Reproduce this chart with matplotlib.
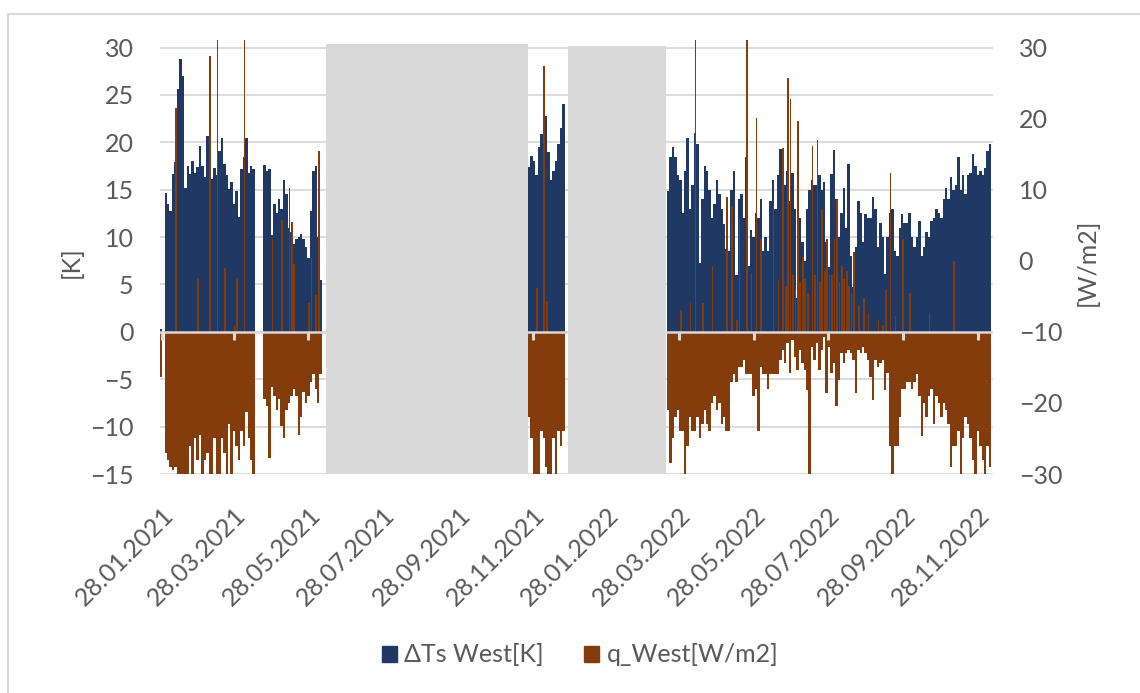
import numpy as np
import matplotlib
matplotlib.use("Agg")
import matplotlib.pyplot as plt
import matplotlib.dates as mdates
import matplotlib.transforms as mtransforms
from matplotlib.patches import Patch, Rectangle

plt.rcParams['font.family'] = ['Lato', 'DejaVu Sans']

BLUE = '#1F3864'
BROWN = '#843C0C'
GRID = '#D9D9D9'
TXT = '#595959'
nan = np.nan

# values: one bar per 2 days, first bar centred on the segment date
seg_starts = ['2021-01-27', '2021-04-22', '2021-11-25', '2022-03-19']

dT_seg1 = [0.3, nan, 14.7, 13.5, 12.8, 16.7, 17.9, 25.6, 28.8, 27.0, 15.2, 17.5, 16.7,
           18.0, 16.8, 17.4, 19.6, 17.5, 16.3, 20.7, 18.4, 16.1, 17.3, 16.5, 19.1, 20.5,
           17.7, 16.5, 15.1, 15.8, 13.5, 14.9, 12.1, 17.2, 18.4, 20.5, 16.8, 17.5, 17.2]
q_seg1 = [-16.3, nan, -27, -28, -29, -29.5, -29, -31, -31, -31, -30, -31, -26, -31, -25,
          -28, -24.5, -31, -28, -27, -30, -31, -25, -31, -31, -25, -27, -31, -23, -30,
          -24, -26, -28, -24, -26, -21.3, -25, -28, -31]
# single days where q rose above the -10 W/m2 baseline: (bar index, value)
q_peaks_seg1 = [(6, 21.5), (15, -2.4), (20, 28.8), (23, 31), (26, -1), (30, -9.2),
                (31, -2.4), (34, 31)]

dT_seg2 = [17.6, 17.0, 17.2, 10.2, 13.5, 12.5, 14.0, 13.0, 16.0, 14.5, 11.0, 10.5, 9.3,
           9.8, 10.0, 10.3, 9.8, 9.0, 7.8, 12.8, 17.0, 17.5, 10.0, 5.5]
q_seg2 = [-19.5, -20.5, -27.8, -17.7, -19.0, -21.0, -19.5, -23.3, -25.0, -21.0, -20, -19,
          -18, -19.0, -24.5, -22.0, -18.5, -20.0, -19, -17, -16.0, -18, -20, -16.0]
q_peaks_seg2 = [(3, 3.0), (7, 5.8), (10, 10.2), (11, 5.5), (12, -0.5), (18, -6.0),
                (19, 0.4), (21, -4.8), (22, 15.4)]

dT_seg3 = [17.4, 18.6, 18.0, 16.5, 19.5, 20.9, 19.5, 22.8, 19.0, 16.0, 17.0, 18.0, 19.8,
           21.5, 24.0]
q_seg3 = [-22, -25, -31, -31, -31, -24, -25, -29, -31, -31, -25, -31, -24, -26, -24]
q_peaks_seg3 = [(3, -3.8), (6, 27.4), (7, -5.7)]

dT_seg4 = [14.9, 18.5, 19.5, 18.5, 16.5, 16.0, 12.5, 17.0, 20.5, 13.0,
           15.5, 21.0, 19.8, 7.3, 14.0, 17.5, 17.0, 15.0, 12.0, 13.5,
           16.0, 14.5, 13.0, 11.4, 8.7, 8.5, 15.0, 17.0, 6.0, 14.0,
           14.5, 12.0, 18.4, 7.0, 10.7, 10.0, 12.5, 12.0, 14.0, 8.5,
           10.0, 8.5, 13.8, 16.0, 13.0, 16.5, 19.3, 16.5, 15.5, 17.0,
           13.8, 16.8, 13.0, 3.6, 12.0, 9.5, 7.5, 13.0, 15.0, 16.0,
           15.5, 15.5, 16.5, 15.0, 15.8, 9.5, 6.8,
           16.7, 19.2, 14.0, 10.0, 12.5, 15.2, 11.0, 17.7, 8.0, 4.7,
           9.0, 13.8, 12.5, 9.5, 12.4, 12.0, 12.0, 14.2, 13.0, 9.0,
           11.5, 10.0, 6.1, 10.0, 12.5, 13.0, 8.5, 8.0, 11.0, 12.4,
           11.5, 11.5, 12.5, 10.0, 9.0, 10.0, 11.7, 8.0, 9.0, 10.5,
           10.0, 11.7, 12.0, 13.0, 12.5, 12.0, 14.0, 15.2, 14.0, 16.3,
           15.0, 15.5, 18.4, 15.0, 16.5, 14.5, 16.5, 16.8, 18.8, 17.5,
           16.5, 17.0, 16.5, 17.3, 19.1, 19.8]
q_seg4 = [-21, -28.5, -25, -22, -21, -24, -24, -30, -26, -22,
          -24, -24, -22, -25, -23, -21, -23, -24, -20, -19,
          -21, -20, -23, -22, -24, -24, -17, -16, -17, -15,
          -15, -14, -16, -16, -16, -19, -18, -24, -15, -16,
          -16, -18, -16, -16, -16, -16, -13.9, -12.5, -14.4, -11.6,
          -15.8, -11.1, -13.5, -15.4, -12.5, -14.4, -15.4, -18.2, -30, -12.1,
          -13.9, -11.6, -15.4, -12.5, -10.7, -18.6, -12.1,
          -15.8, -14.4, -20.5, -16.8, -13.0, -14.4, -13.0, -12.5, -13.0, -13.9,
          -18.6, -12.5, -13.0, -12.1, -13.0, -13.9, -16.3, -19.6, -13.9, -14.9,
          -14.4, -13.9, -18.2, -15.8, -26, -30, -26, -26, -22, -18,
          -18, -17, -17, -18, -17, -16, -19, -24.7, -20, -22,
          -19, -18, -23, -19, -20, -22, -20, -21, -23, -29,
          -26, -26, -24, -30, -25, -22, -23, -25, -28, -30,
          -24, -26, -28, -30, -26, -29]
q_peaks_seg4 = [(5, -6.9), (9, -6.0), (11, 31), (14, -6.0), (18, -0.8), (24, 9.0),
                (26, 7.7), (28, -8.3), (29, 5.8), (32, 31), (34, -1.7), (36, 20.1),
                (38, 3.0), (43, 7.7), (45, -2.7), (47, 15.9), (48, -3.5), (49, 25.7),
                (50, 22.7), (51, -2.0), (52, -4.0), (53, 19.6), (54, -3.0), (55, 0.6),
                (56, -2.5), (57, -4.5), (59, 16.1), (60, -2.0), (61, 17.0), (62, -3.0),
                (63, 7.2), (64, -1.5), (65, 3.0), (66, -2.0), (67, -2.0), (68, 3.0),
                (69, 8.6), (70, -3.0), (71, -0.8), (72, -2.5), (73, -1.5), (74, -3.5),
                (75, -4.5), (76, 1.3), (78, -6.4), (80, -5.3), (82, -7.4), (86, -8.3),
                (88, -9.0), (89, -4.1), (91, 12.3), (93, -7.8), (96, 3.0), (99, -4.6),
                (107, -7.4), (117, -0.1)]

# periods without data (grey blocks) and their top in K
gap_start = ['2021-06-11', '2021-12-26T16']
gap_end = ['2021-11-24', '2022-03-17T12']
gap_top = [30.4, 30.15]

tick_dates = ['2021-01-28', '2021-03-28', '2021-05-28', '2021-07-28', '2021-09-28',
              '2021-11-28', '2022-01-28', '2022-03-28', '2022-05-28', '2022-07-28',
              '2022-09-28', '2022-11-28']

dT_all = [dT_seg1, dT_seg2, dT_seg3, dT_seg4]
q_all = [q_seg1, q_seg2, q_seg3, q_seg4]
peaks_all = [q_peaks_seg1, q_peaks_seg2, q_peaks_seg3, q_peaks_seg4]

fig = plt.figure(figsize=(11.4, 6.93), dpi=100)
fig.patches.append(Rectangle((8 / 1140, -0.1), 1.2, 1.1 - 14 / 693, transform=fig.transFigure,
                             fill=False, edgecolor=GRID, lw=1.5))

ax = fig.add_axes([160 / 1140, 1 - 474 / 693, 833 / 1140, 435 / 693])
ax2 = ax.twinx()

bar_kw = dict(linewidth=0, zorder=2, antialiased=False)
for start, dt_vals, q_vals, peaks in zip(seg_starts, dT_all, q_all, peaks_all):
    x = mdates.date2num(np.datetime64(start)) + 2 * np.arange(len(dt_vals))
    dt_vals = np.array(dt_vals)
    q_vals = np.array(q_vals)
    ok = ~np.isnan(dt_vals)
    ax.bar(x[ok], dt_vals[ok], width=2, color=BLUE, **bar_kw)

    ok = ~np.isnan(q_vals)
    ax2.bar(x[ok], q_vals[ok] + 10, bottom=-10, width=2, color=BROWN, **bar_kw)
    # single peak days drawn as thin bars on top
    peak_idx = [i for i, _ in peaks]
    ax2.bar(x[peak_idx] + 0.4, np.array([v for _, v in peaks]) + 10, bottom=-10, width=1.4,
            color=BROWN, linewidth=0, zorder=3)

for s, e, top in zip(gap_start, gap_end, gap_top):
    s_num = mdates.date2num(np.datetime64(s))
    e_num = mdates.date2num(np.datetime64(e))
    ax.bar(s_num, top + 15, bottom=-15, width=e_num - s_num, align='edge',
           color=GRID, linewidth=0, zorder=3)

ticks = [mdates.date2num(np.datetime64(d)) for d in tick_dates]

# category axis line and its tick marks, drawn over the bars
ax2.axhline(-10, color=GRID, lw=1.8, zorder=5)
ax2.vlines(ticks, -11.1, -10, color=GRID, lw=2.2, zorder=5)

ax.set_ylim(-15, 30.9)
ax2.set_ylim(-30, 31.2)
ax.set_yticks(np.arange(-15, 31, 5))
ax2.set_yticks(np.arange(-30, 31, 10))
ax.set_xlim(mdates.date2num(np.datetime64('2021-01-26T05')),
            mdates.date2num(np.datetime64('2022-12-10T10')))

ax.set_xticks(ticks)
ax.set_xticklabels([f'{d[8:10]}.{d[5:7]}.{d[0:4]}' for d in tick_dates],
                   rotation=45, ha='right', va='top', rotation_mode='anchor')
shift = mtransforms.ScaledTranslation(4 / 100, 0, fig.dpi_scale_trans)
for lab in ax.get_xticklabels():
    lab.set_transform(lab.get_transform() + shift)

ax.yaxis.grid(True, color=GRID, lw=1.3)
ax.set_axisbelow(True)
for a in (ax, ax2):
    for sp in a.spines.values():
        sp.set_visible(False)
    a.tick_params(length=0, labelsize=18, labelcolor=TXT)
ax.tick_params(axis='y', pad=19)
ax.tick_params(axis='x', pad=21)
ax2.tick_params(axis='y', pad=18.5)

fig.text(71 / 1140, 1 - 262 / 693, '[K]', rotation=90, ha='center', va='center',
         fontsize=18, color=TXT)
fig.text(1087 / 1140, 1 - 262 / 693, '[W/m2]', rotation=90, ha='center', va='center',
         fontsize=18, color=TXT)

handles = [Patch(color=BLUE, label='ΔTs West[K]'), Patch(color=BROWN, label='q_West[W/m2]')]
fig.legend(handles=handles, loc='center', bbox_to_anchor=(580 / 1140, 1 - 655 / 693), ncol=2,
           frameon=False, fontsize=18, labelcolor=TXT, handlelength=0.6, handleheight=0.6,
           handletextpad=0.3, columnspacing=1.6)

fig.savefig('out.png', dpi=100)
